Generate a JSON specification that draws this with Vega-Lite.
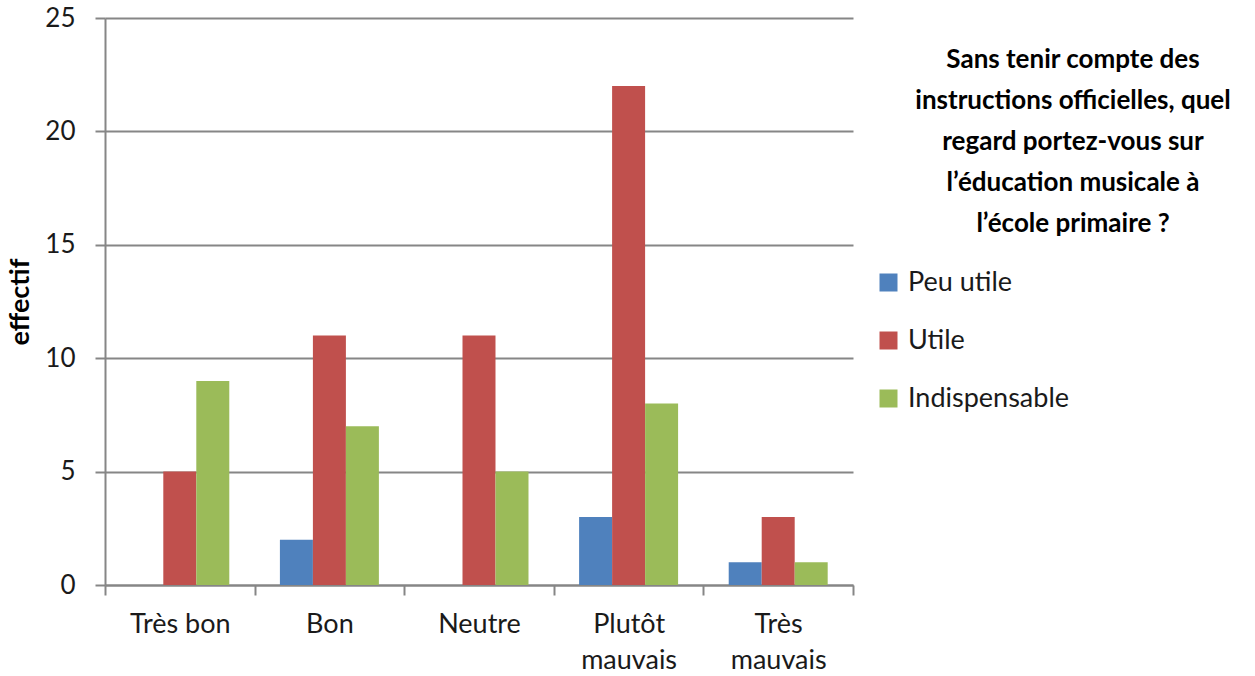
{
  "$schema": "https://vega.github.io/schema/vega-lite/v6.json",
  "autosize": "none",
  "padding": {"left": 105, "top": 18, "right": 402, "bottom": 91},
  "width": 748,
  "height": 567,
  "background": "white",
  "config": {
    "view": {"stroke": null},
    "font": "Lato"
  },
  "title": {
    "text": ["Sans tenir compte des", "instructions officielles, quel", "regard portez-vous sur", "l’éducation musicale à", "l’école primaire ?"],
    "orient": "top",
    "anchor": "middle",
    "frame": "group",
    "baseline": "top",
    "offset": 0,
    "dx": 594,
    "dy": 232,
    "font": "Lato",
    "fontSize": 26,
    "fontWeight": "bold",
    "color": "#000000",
    "lineHeight": 41,
    "limit": 400
  },
  "data": {
    "values": [
      {"regard": "Très bon", "serie": "Peu utile", "effectif": 0},
      {"regard": "Très bon", "serie": "Utile", "effectif": 5},
      {"regard": "Très bon", "serie": "Indispensable", "effectif": 9},
      {"regard": "Bon", "serie": "Peu utile", "effectif": 2},
      {"regard": "Bon", "serie": "Utile", "effectif": 11},
      {"regard": "Bon", "serie": "Indispensable", "effectif": 7},
      {"regard": "Neutre", "serie": "Peu utile", "effectif": 0},
      {"regard": "Neutre", "serie": "Utile", "effectif": 11},
      {"regard": "Neutre", "serie": "Indispensable", "effectif": 5},
      {"regard": "Plutôt mauvais", "serie": "Peu utile", "effectif": 3},
      {"regard": "Plutôt mauvais", "serie": "Utile", "effectif": 22},
      {"regard": "Plutôt mauvais", "serie": "Indispensable", "effectif": 8},
      {"regard": "Très mauvais", "serie": "Peu utile", "effectif": 1},
      {"regard": "Très mauvais", "serie": "Utile", "effectif": 3},
      {"regard": "Très mauvais", "serie": "Indispensable", "effectif": 1}
    ]
  },
  "mark": {"type": "bar"},
  "encoding": {
    "x": {
      "field": "regard",
      "type": "nominal",
      "sort": ["Très bon", "Bon", "Neutre", "Plutôt mauvais", "Très mauvais"],
      "scale": {"paddingInner": 0, "paddingOuter": 0},
      "axis": {
        "title": null,
        "labelAngle": 0,
        "tickBand": "extent",
        "tickSize": 10,
        "tickColor": "#868686",
        "tickWidth": 2,
        "domainColor": "#868686",
        "domainWidth": 2,
        "labelFont": "Lato",
        "labelFontSize": 27,
        "labelColor": "#1a1a1a",
        "labelPadding": 16,
        "labelLineHeight": 36,
        "labelBaseline": "top",
        "labelExpr": "datum.label == 'Très bon' ? datum.label : split(datum.label, ' ')"
      }
    },
    "xOffset": {
      "field": "serie",
      "type": "nominal",
      "sort": ["Peu utile", "Utile", "Indispensable"],
      "scale": {"paddingInner": 0, "paddingOuter": 0.767}
    },
    "y": {
      "field": "effectif",
      "type": "quantitative",
      "scale": {"domain": [0, 25], "nice": false},
      "axis": {
        "title": "effectif",
        "titleFont": "Lato",
        "titleFontSize": 27,
        "titleFontWeight": "bold",
        "titleColor": "#000000",
        "titlePadding": 10,
        "values": [0, 5, 10, 15, 20, 25],
        "grid": true,
        "gridColor": "#868686",
        "gridWidth": 2,
        "tickSize": 10,
        "tickColor": "#868686",
        "tickWidth": 2,
        "domainColor": "#868686",
        "domainWidth": 2,
        "labelFont": "Lato",
        "labelFontSize": 26,
        "labelColor": "#1a1a1a",
        "labelPadding": 20
      }
    },
    "color": {
      "field": "serie",
      "type": "nominal",
      "sort": ["Peu utile", "Utile", "Indispensable"],
      "scale": {"domain": ["Peu utile", "Utile", "Indispensable"], "range": ["#4F81BD", "#C0504D", "#9BBB59"]},
      "legend": {
        "title": null,
        "orient": "none",
        "legendX": 770,
        "legendY": 251,
        "symbolType": "square",
        "symbolSize": 324,
        "symbolStrokeWidth": 0,
        "labelFont": "Lato",
        "labelFontSize": 27,
        "labelColor": "#1a1a1a",
        "labelOffset": 6,
        "labelLimit": 400,
        "rowPadding": 30
      }
    }
  }
}
